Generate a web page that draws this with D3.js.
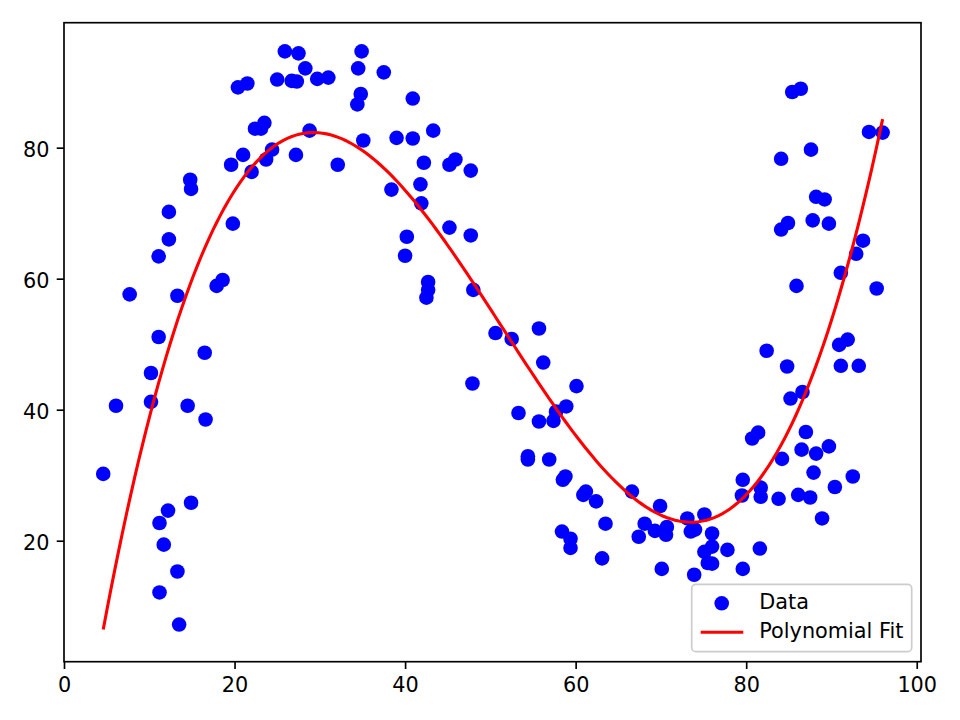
<!DOCTYPE html>
<html>
<head>
<meta charset="utf-8">
<script src="https://cdn.jsdelivr.net/npm/d3@7"></script>
<style>
  body { margin: 0; background: #fff; }
  svg text { font-family: "DejaVu Sans", sans-serif; }
</style>
</head>
<body>
<div id="chart"></div>
<script>
// scatter values
var xValues = [4.6, 6.1, 7.7, 10.2, 10.2, 11.1, 11.1, 11.2, 11.2, 11.7, 12.2, 12.3, 12.3, 13.3, 13.3, 13.5, 14.5, 14.8, 14.9, 14.9,
  16.5, 16.6, 17.9, 18.6, 19.6, 19.8, 20.4, 21.0, 21.5, 22.0, 22.4, 23.1, 23.5, 23.7, 24.4, 25.0, 25.9, 26.7, 27.3, 27.2,
  27.5, 28.3, 28.8, 29.7, 31.0, 32.1, 34.4, 34.5, 34.8, 34.9, 35.1, 37.5, 38.4, 39.0, 40.0, 40.2, 40.9, 40.9, 41.8, 41.9,
  42.2, 42.5, 42.7, 42.7, 43.3, 45.2, 45.9, 45.2, 47.7, 47.7, 48.0, 47.9, 50.6, 52.5, 53.3, 54.4, 54.4, 55.7, 55.7, 56.2,
  56.9, 57.7, 57.4, 58.9, 60.1, 58.8, 58.5, 58.4, 59.4, 59.4, 61.2, 60.9, 62.4, 63.5, 63.1, 66.6, 68.1, 67.4, 69.3, 70.6,
  70.7, 69.9, 70.1, 73.1, 73.5, 74.0, 73.9, 75.1, 76.0, 75.1, 76.0, 75.5, 76.0, 77.8, 79.6, 79.6, 79.5, 80.7, 81.4, 81.6,
  81.7, 81.7, 82.4, 83.8, 84.2, 84.8, 85.2, 86.6, 86.1, 87.5, 86.5, 88.2, 87.9, 87.0, 88.9, 89.7, 90.4, 92.5, 91.1, 93.2,
  90.9, 91.9, 85.9, 95.3, 91.1, 92.9, 93.7, 84.1, 84.9, 87.8, 89.7, 88.2, 89.2, 84.1, 87.6, 85.4, 86.4, 94.4, 96.0]
var yValues = [30.2, 40.6, 57.6, 45.6, 41.2, 63.4, 51.1, 22.7, 12.1, 19.4, 24.6, 70.2, 66.0, 57.4, 15.3, 7.2, 40.6, 75.1, 73.7, 25.8,
  48.7, 38.5, 58.9, 59.8, 77.4, 68.4, 89.2, 78.9, 89.8, 76.3, 82.9, 82.9, 83.8, 78.2, 79.7, 90.4, 94.7, 90.2, 90.1, 78.9,
  94.4, 92.1, 82.6, 90.5, 90.7, 77.4, 86.6, 92.1, 88.2, 94.7, 81.1, 91.5, 73.6, 81.5, 63.5, 66.4, 87.5, 81.4, 74.4, 71.5,
  77.7, 57.1, 58.3, 59.5, 82.6, 77.4, 78.2, 67.8, 76.5, 66.6, 58.3, 44.0, 51.7, 50.8, 39.5, 32.9, 32.4, 52.4, 38.2, 47.2,
  32.4, 39.7, 38.3, 40.5, 43.6, 29.8, 29.3, 21.4, 20.3, 18.9, 27.5, 27.0, 26.0, 22.6, 17.3, 27.5, 22.6, 20.6, 21.5, 20.9,
  22.1, 25.3, 15.7, 23.4, 21.4, 21.7, 14.8, 24.0, 21.1, 18.3, 19.1, 16.6, 16.5, 18.6, 15.7, 29.3, 26.9, 35.6, 36.5, 18.8,
  28.1, 26.7, 49.0, 26.4, 32.5, 46.6, 41.7, 42.7, 27.0, 26.6, 33.9, 33.3, 30.4, 36.6, 23.4, 34.4, 28.2, 29.8, 46.7, 46.7,
  49.9, 50.7, 58.9, 58.5, 60.9, 63.8, 65.8, 67.5, 68.5, 68.9, 68.4, 72.5, 72.1, 78.3, 79.7, 88.5, 89.0, 82.4, 82.3]

var xTicks = [0, 20, 40, 60, 80, 100]
var yTicks = [20, 40, 60, 80]
var seriesNames = ['Data', 'Polynomial Fit']
var fitDegree = 3

var width = 960
var height = 720
var plot = { left: 64, right: 921, top: 22.7, bottom: 661.7 }
var dotRadius = 7.3

// least squares polynomial fit (like np.polyfit) on centred/scaled x
function polyfit (xs, ys, deg) {
  var mx = d3.mean(xs)
  var sx = d3.deviation(xs)
  var n = deg + 1
  var A = []
  for (var r = 0; r < n; r++) {
    A.push(new Array(n + 1).fill(0))
  }
  xs.forEach((x, k) => {
    var t = (x - mx) / sx
    for (var r = 0; r < n; r++) {
      for (var c = 0; c < n; c++) A[r][c] += Math.pow(t, r + c)
      A[r][n] += ys[k] * Math.pow(t, r)
    }
  })
  for (var i = 0; i < n; i++) {
    var p = i
    for (var j = i + 1; j < n; j++) if (Math.abs(A[j][i]) > Math.abs(A[p][i])) p = j
    var tmp = A[i]; A[i] = A[p]; A[p] = tmp
    for (var j = i + 1; j < n; j++) {
      var f = A[j][i] / A[i][i]
      for (var c = i; c <= n; c++) A[j][c] -= f * A[i][c]
    }
  }
  var coef = new Array(n).fill(0)
  for (var i = n - 1; i >= 0; i--) {
    var s = A[i][n]
    for (var c = i + 1; c < n; c++) s -= A[i][c] * coef[c]
    coef[i] = s / A[i][i]
  }
  return x => {
    var t = (x - mx) / sx
    return coef.reduce((acc, a, i) => acc + a * Math.pow(t, i), 0)
  }
}

var svg = d3
  .select('#chart')
  .append('svg')
  .attr('width', width)
  .attr('height', height)

var x_scale = d3.scaleLinear().domain([0, 100.5]).range([plot.left, plot.right])
var y_scale = d3.scaleLinear().domain([1.53, 99.08]).range([plot.bottom, plot.top])

var points = xValues.map((x, i) => ({ x: x, y: yValues[i] }))

svg
  .selectAll('.dot')
  .data(points)
  .enter()
  .append('circle')
  .attr('class', 'dot')
  .attr('cx', d => x_scale(d.x))
  .attr('cy', d => y_scale(d.y))
  .attr('r', dotRadius)
  .attr('fill', '#0000ff')

// fitted curve, sampled across the data's x range
var fit = polyfit(xValues, yValues, fitDegree)
var xMin = d3.min(xValues)
var xMax = d3.max(xValues)
var fitX = d3.range(200).map(i => xMin + (xMax - xMin) * i / 199)
var line = d3.line().x(d => x_scale(d[0])).y(d => y_scale(d[1]))

svg
  .append('path')
  .datum(fitX.map(x => [x, fit(x)]))
  .attr('d', line)
  .attr('fill', 'none')
  .attr('stroke', '#ff0000')
  .attr('stroke-width', 3.1)

// axes
var x_axis = svg
  .append('g')
  .attr('transform', 'translate(0,' + plot.bottom + ')')
  .call(d3.axisBottom(x_scale).tickValues(xTicks).tickSize(7.3).tickPadding(7.3).tickFormat(d3.format('d')))
var y_axis = svg
  .append('g')
  .attr('transform', 'translate(' + plot.left + ',0)')
  .call(d3.axisLeft(y_scale).tickValues(yTicks).tickSize(7.3).tickPadding(7.3).tickFormat(d3.format('d')))

svg.selectAll('.domain').remove()
svg.selectAll('.tick line').attr('stroke', '#000').attr('stroke-width', 1.67)
svg.selectAll('.tick text').attr('font-size', 20.8).attr('fill', '#000')
x_axis.selectAll('.tick text').attr('dy', null).attr('y', 30.3)
y_axis.selectAll('.tick text').attr('dy', null).attr('y', 8.4)

svg
  .append('rect')
  .attr('x', plot.left)
  .attr('y', plot.top)
  .attr('width', plot.right - plot.left)
  .attr('height', plot.bottom - plot.top)
  .attr('fill', 'none')
  .attr('stroke', '#000')
  .attr('stroke-width', 1.67)

// legend
var legend = svg.append('g')
legend
  .append('rect')
  .attr('x', 691.7)
  .attr('y', 584.3)
  .attr('width', 220)
  .attr('height', 67.4)
  .attr('rx', 4)
  .attr('fill', '#fff')
  .attr('fill-opacity', 0.8)
  .attr('stroke', '#cccccc')
  .attr('stroke-width', 1.67)
legend
  .append('circle')
  .attr('cx', 721.7)
  .attr('cy', 603.3)
  .attr('r', dotRadius)
  .attr('fill', '#0000ff')
legend
  .append('line')
  .attr('x1', 700.7)
  .attr('x2', 743.3)
  .attr('y1', 632.3)
  .attr('y2', 632.3)
  .attr('stroke', '#ff0000')
  .attr('stroke-width', 3.1)
legend
  .selectAll('.legend-label')
  .data(seriesNames)
  .enter()
  .append('text')
  .attr('class', 'legend-label')
  .attr('x', 759.3)
  .attr('y', (d, i) => 609 + i * 29.3)
  .attr('font-size', 20.8)
  .attr('fill', '#000')
  .text(d => d)
</script>
</body>
</html>
